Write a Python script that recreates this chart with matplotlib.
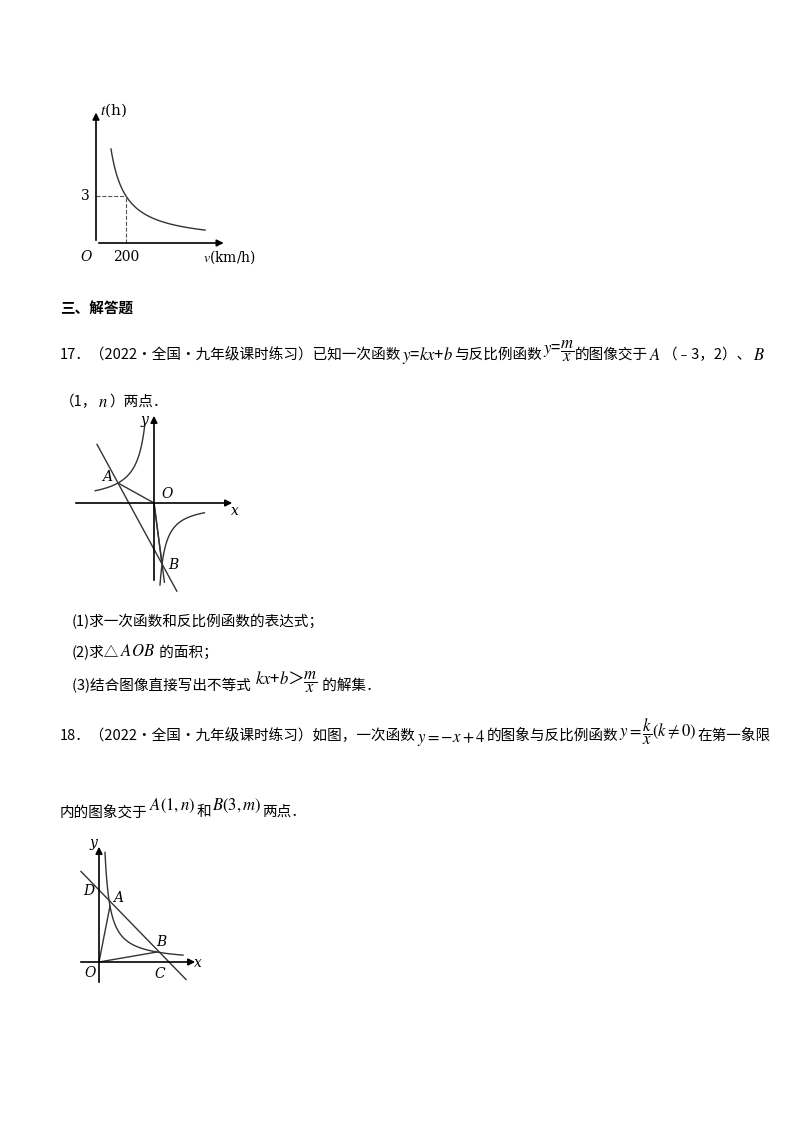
import numpy as np
import matplotlib
matplotlib.use('Agg')
import matplotlib.pyplot as plt

plt.rcParams['font.family'] = ['Noto Sans CJK SC', 'DejaVu Sans']
plt.rcParams['mathtext.fontset'] = 'stix'

W, H = 800, 1132

# figure 1: t = 600 / v
v_mark, t_mark = 200, 3
v_curve = np.linspace(100, 727, 100)
# figure 2 (drawing units, not to scale as in the original)
A2 = (-3, 2)
B2 = (0.67, -6.1)
k2_left, k2_right = -6, -4.1
# figure 3 (drawing units relative to O)
A3 = (11, 56)
B3 = (58, 10)
C3 = (70, 0)
D3 = (0, 72)
hyp3_k, hyp3_p = 572, -0.78

fig = plt.figure(figsize=(W / 100, H / 100), dpi=100)
renderer = fig.canvas.get_renderer()


def line(x, y, parts, weight='normal'):
    # parts: (text, size, dy) placed one after another
    for s, size, dy in parts:
        t = fig.text(x / W, 1 - (y + dy) / H, s, fontsize=size, va='center', ha='left',
                     weight=weight)
        x += t.get_window_extent(renderer).width + 1


def box(l, t, r, b):
    ax = fig.add_axes([l / W, 1 - b / H, (r - l) / W, (b - t) / H])
    ax.axis('off')
    return ax


def arrow(ax, x0, y0, x1, y1):
    ax.annotate('', xy=(x1, y1), xytext=(x0, y0),
                arrowprops=dict(arrowstyle='-|>', color='black', lw=1.2, mutation_scale=10))


# ---- figure 1
ax1 = box(80, 100, 240, 265)
sx, sy = 0.15, 15.67
ax1.set_xlim(-16 / sx, 144 / sx)
ax1.set_ylim(-22 / sy, 143 / sy)
arrow(ax1, 0, 0, 870, 0)
arrow(ax1, 0, 0, 0, 8.5)
ax1.plot(v_curve, 600 / v_curve, color='#333333', lw=1)
ax1.plot([0, v_mark], [t_mark, t_mark], ls='--', color='#555555', lw=0.8)
ax1.plot([v_mark, v_mark], [0, t_mark], ls='--', color='#555555', lw=0.8)
ax1.text(-40, 3, '3', ha='right', va='center', fontsize=10, family='DejaVu Serif')
ax1.text(-30, -0.9, 'O', ha='right', va='center', fontsize=10, family='DejaVu Serif', style='italic')
ax1.text(200, -0.9, '200', ha='center', va='center', fontsize=10, family='DejaVu Serif')
ax1.text(30, 8.5, r'$t$(h)', ha='left', va='center', fontsize=11, family='DejaVu Serif')
ax1.text(890, -0.9, r'$v$(km/h)', ha='center', va='center', fontsize=10, family='DejaVu Serif')

# ---- figure 2
ax2 = box(60, 400, 260, 600)
ax2.set_xlim((60 - 154) / 12, (260 - 154) / 12)
ax2.set_ylim((503 - 600) / 10, (503 - 400) / 10)
arrow(ax2, -81 / 12, 0, 81 / 12, 0)
arrow(ax2, 0, -8, 0, 9)
xl = np.linspace(-4.9, -0.77, 80)
ax2.plot(xl, k2_left / xl, color='#333333', lw=1)
xr = np.linspace(0.5, 4.2, 80)
ax2.plot(xr, k2_right / xr, color='#333333', lw=1)
slope = (B2[1] - A2[1]) / (B2[0] - A2[0])
xs = np.array([-4.75, 1.9])
ax2.plot(xs, A2[1] + slope * (xs - A2[0]), color='#333333', lw=1)
ax2.plot([A2[0], 0, B2[0]], [A2[1], 0, B2[1]], color='#333333', lw=1)
ax2.plot([0, B2[0] * 1.3], [0, B2[1] * 1.3], color='#333333', lw=1)
ax2.text(-4.3, 2.2, 'A', style='italic', family='DejaVu Serif', fontsize=10)
ax2.text(0.6, 0.5, 'O', style='italic', family='DejaVu Serif', fontsize=10)
ax2.text(1.2, -6.6, 'B', style='italic', family='DejaVu Serif', fontsize=10)
ax2.text(-1.1, 7.9, 'y', style='italic', family='DejaVu Serif', fontsize=10)
ax2.text(6.4, -1.2, 'x', style='italic', family='DejaVu Serif', fontsize=10)

# ---- figure 3
ax3 = box(60, 830, 220, 990)
ax3.set_xlim(60 - 99, 220 - 99)
ax3.set_ylim(962 - 990, 962 - 830)
arrow(ax3, -21, 0, 99, 0)
arrow(ax3, 0, -23, 0, 118)
xh = np.linspace(6, 84, 120)
ax3.plot(xh, hyp3_k / (xh + hyp3_p), color='#333333', lw=1)
s3 = (C3[1] - D3[1]) / (C3[0] - D3[0])
xs3 = np.array([-18, 87])
ax3.plot(xs3, D3[1] + s3 * xs3, color='#333333', lw=1)
ax3.plot([A3[0], 0, B3[0]], [A3[1], 0, B3[1]], color='#333333', lw=1)
for s, (x, y) in {'D': (-16, 67), 'A': (14, 60), 'B': (57, 16), 'C': (55, -16),
                  'O': (-15, -15), 'y': (-9, 115), 'x': (95, -5)}.items():
    ax3.text(x, y, s, style='italic', family='DejaVu Serif', fontsize=10)

# ---- text
fs, ms = 10.5, 12
line(60, 309, [('三、解答题', fs, 0)], weight='bold')
line(60, 355, [('17．（2022·全国·九年级课时练习）已知一次函数', fs, 0),
               (r'$y$=$kx$+$b$', ms, 0), ('与反比例函数', fs, 0),
               (r'$y$=$\dfrac{m}{x}$', ms, -4), ('的图像交于', fs, 0),
               (r'$A$', ms, 0), ('（﹣3，2）、', fs, 0), (r'$B$', ms, 0)])
line(60, 402, [('（1，', fs, 0), (r'$n$', ms, 0), ('）两点．', fs, 0)])
line(72, 622, [('(1)求一次函数和反比例函数的表达式；', fs, 0)])
line(72, 652, [('(2)求△', fs, 0), (r'$AOB$', ms, 0), (' 的面积；', fs, 0)])
line(72, 686, [('(3)结合图像直接写出不等式 ', fs, 0),
               (r'$kx$+$b$＞$\dfrac{m}{x}$', ms, -4), (' 的解集．', fs, 0)])
line(60, 736, [('18．（2022·全国·九年级课时练习）如图，一次函数', fs, 0),
               (r'$y=-x+4$', ms, 2), ('的图象与反比例函数', fs, 0),
               (r'$y=\dfrac{k}{x}\left(k\neq0\right)$', ms, -4), ('在第一象限', fs, 0)])
line(60, 812, [('内的图象交于', fs, 0), (r'$A\left(1,n\right)$', ms, -6),
               ('和', fs, 0), (r'$B\left(3,m\right)$', ms, -6), ('两点．', fs, 0)])

fig.savefig('out.png', dpi=100)
